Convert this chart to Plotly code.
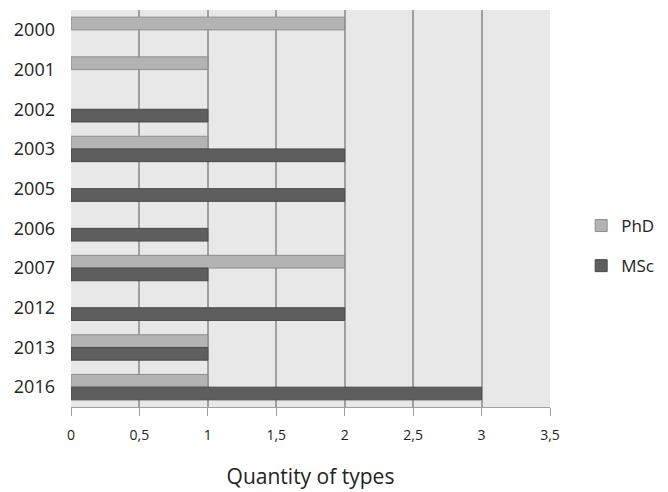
import plotly.graph_objects as go

years = ["2000", "2001", "2002", "2003", "2005", "2006", "2007", "2012", "2013", "2016"]
phd = [2, 1, 0, 1, 0, 0, 2, 0, 1, 1]
msc = [0, 0, 1, 2, 2, 1, 1, 2, 1, 3]
x_ticks = [0, 0.5, 1, 1.5, 2, 2.5, 3, 3.5]


def nz(vals):
    # zero-length bars are not drawn (no outline stub at 0)
    return [v if v else None for v in vals]


fig = go.Figure()
fig.add_trace(go.Bar(y=years, x=nz(phd), name="PhD", orientation="h",
                     marker=dict(color="#b3b3b3", line=dict(color="#8c8c8c", width=1)),
                     legendgroup="a"))
fig.add_trace(go.Bar(y=years, x=nz(msc), name="MSc", orientation="h",
                     marker=dict(color="#5e5e5e", line=dict(color="#4a4a4a", width=1)),
                     legendgroup="b"))

fig.update_layout(
    width=668, height=492,
    margin=dict(l=71, r=118, t=10, b=85, autoexpand=False),
    paper_bgcolor="white",
    plot_bgcolor="#e8e8e8",
    barmode="group",
    bargap=0.36,
    bargroupgap=0,
    separators=",.",
    font=dict(family="Open Sans, DejaVu Sans, sans-serif", size=14, color="#222222"),
    showlegend=True,
    legend=dict(xref="container", yref="container", x=0.87, y=0.50,
                xanchor="left", yanchor="middle",
                tracegroupgap=15, font=dict(size=17, color="#222222"),
                bgcolor="rgba(0,0,0,0)"),
    xaxis=dict(range=[0, 3.5], tickvals=x_ticks, showgrid=True, gridcolor="#a0a0a0",
               gridwidth=1.5, ticks="outside", ticklen=8, tickcolor="#a0a0a0",
               showline=True, linecolor="#a0a0a0", zeroline=False,
               tickfont=dict(size=14, color="#222222"), ticklabelstandoff=7,
               automargin=False,
               title=dict(text="Quantity of types", font=dict(size=21, color="#222222"), standoff=26)),
    yaxis=dict(autorange="reversed", type="category", showgrid=False, ticks="",
               tickfont=dict(size=18, color="#222222"), ticklabelstandoff=15,
               automargin=False),
)

fig.write_html("out.html")
